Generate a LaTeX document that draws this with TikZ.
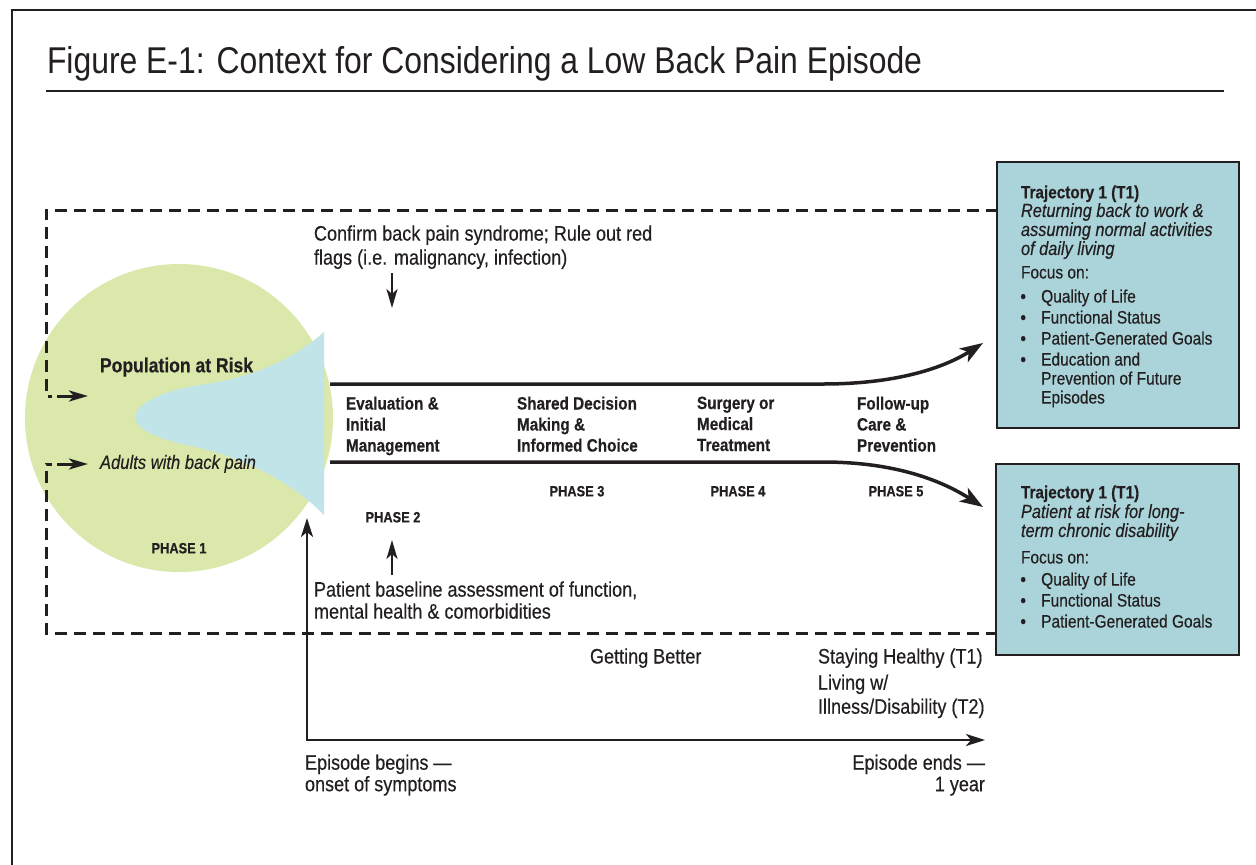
\documentclass[tikz,border=0pt]{standalone}
\usepackage{fontspec}
\setmainfont{Liberation Sans}[FakeStretch=0.86, FakeBold=0.35]
\newfontfamily\titlefont{Liberation Sans}[FakeStretch=0.855]
\usetikzlibrary{arrows.meta}
\definecolor{ink}{HTML}{231F20}
\definecolor{circgreen}{HTML}{DAE9AB}
\definecolor{hornblue}{HTML}{C0E4E7}
\definecolor{boxblue}{HTML}{AAD4D9}
\newcommand{\bul}{\makebox[20.7pt][l]{\bfseries •}}
\begin{document}
\begin{tikzpicture}[x=1pt,y=-1pt,
  every node/.style={inner sep=0pt,outer sep=0pt,text=ink},
  titletext/.style={font=\titlefont\fontsize{37.3}{40}\selectfont,anchor=west,text height=26.7pt,text depth=0pt},
  regtext/.style={font=\fontsize{21}{24}\selectfont,align=left,anchor=north west},
  regline/.style={font=\fontsize{21}{24}\selectfont,anchor=west,text height=15pt,text depth=0pt},
  phaselabel/.style={font=\bfseries\fontsize{17.8}{21}\selectfont,align=left,anchor=north west},
  phasetag/.style={font=\bfseries\fontsize{14.9}{17}\selectfont,text height=10.7pt,text depth=0pt},
  circbold/.style={font=\bfseries\fontsize{20.4}{23}\selectfont,anchor=west,text height=14.6pt,text depth=0pt},
  circital/.style={font=\itshape\fontsize{19.3}{22}\selectfont,anchor=west,text height=13.8pt,text depth=0pt},
  boxtitle/.style={font=\bfseries\fontsize{17.8}{20}\selectfont,anchor=west,text height=12.7pt,text depth=0pt},
  boxital/.style={font=\itshape\fontsize{19}{19}\selectfont,align=left,anchor=north west},
  boxreg/.style={font=\fontsize{18}{21}\selectfont,anchor=west,text height=12.9pt,text depth=0pt},
  boxlist/.style={font=\fontsize{18}{21}\selectfont,align=left,anchor=north west},
  tbox/.style={draw=ink,line width=2pt,fill=boxblue,anchor=north west},
  thinrule/.style={draw=ink,line width=2.5pt},
  dashline/.style={draw=ink,line width=3pt,dash pattern=on 12pt off 7pt},
  flow/.style={draw=ink,line width=3.5pt,-{Stealth[length=23pt,width=16pt,inset=6pt]}},
  smallarrow/.style={draw=ink,line width=2pt,-{Stealth[length=19pt,width=11pt,inset=5pt]}},
  axisline/.style={draw=ink,line width=2.5pt,{Stealth[length=19pt,width=12pt,inset=5pt]}-{Stealth[length=19pt,width=12pt,inset=5pt]}},
]
\useasboundingbox (0,0) rectangle (1256,865);
\fill[white] (0,0) rectangle (1256,865);

% frame and title
\coordinate (frBL) at (12,865);
\coordinate (frTL) at (12,10);
\coordinate (frTR) at (1256,10);
\draw[thinrule] (frBL) -- (frTL) -- (frTR);
\node[titletext] (title) at (47,60.5) {Figure E-1: Context for Considering a Low Back Pain Episode};
\coordinate (ruleL) at (46,91);
\coordinate (ruleR) at (1224,91);
\draw[thinrule] (ruleL) -- (ruleR);

% population circle and horn
\node[circle,fill=circgreen,minimum size=308pt] (pop) at (179,418) {};
\fill[hornblue] (324,332) .. controls (290,362) and (250,378) .. (200,385)
  .. controls (160,391) and (135,405) .. (135,417)
  .. controls (135,430) and (160,440) .. (200,448)
  .. controls (250,460) and (295,485) .. (324,515) -- cycle;

% dashed boundary
\coordinate (dTR) at (998,210);
\coordinate (dBR) at (998,633);
\coordinate (dA1) at (46,396);
\coordinate (dA1e) at (52,396);
\coordinate (dA2) at (46,464);
\coordinate (dA2e) at (52,464);
\coordinate (arA1s) at (57,396);
\coordinate (arA1t) at (88,396);
\coordinate (arA2s) at (57,464);
\coordinate (arA2t) at (88,464);
\draw[dashline] (dTR) -| (dA1) -- (dA1e);
\draw[dashline] (dBR) -| (dA2) -- (dA2e);
\draw[smallarrow,line width=3pt] (arA1s) -- (arA1t);
\draw[smallarrow,line width=3pt] (arA2s) -- (arA2t);

\node[circbold] (popRisk) at (100,365) {Population at Risk};
\node[circital] (adults) at (100,462) {Adults with back pain};
\node[phasetag] (ph1) at (179,548) {PHASE 1};

% flow lines
\coordinate (fT0) at (330,384);
\coordinate (fT1) at (823,384);
\coordinate (fT2) at (983,343);
\coordinate (fB0) at (330,462);
\coordinate (fB1) at (823,462);
\coordinate (fB2) at (983,507);
\draw[flow] (fT0) -- (fT1) .. controls (905,384) and (950,364) .. (fT2);
\draw[flow] (fB0) -- (fB1) .. controls (905,462) and (950,486) .. (fB2);

% phase labels
\node[phaselabel] (eval) at (346,396.6) {Evaluation \&\\Initial\\Management};
\node[phaselabel] (shared) at (517,396.6) {Shared Decision\\Making \&\\Informed Choice};
\node[phaselabel] (surg) at (697,396.6) {Surgery or\\Medical\\Treatment};
\node[phaselabel] (follow) at (857,396.6) {Follow-up\\Care \&\\Prevention};
\node[phasetag] (ph2) at (393,517) {PHASE 2};
\node[phasetag] (ph3) at (577,491) {PHASE 3};
\node[phasetag] (ph4) at (738,491) {PHASE 4};
\node[phasetag] (ph5) at (896,491) {PHASE 5};

% annotations
\node[regtext] (confirm) at (314,225.4) {Confirm back pain syndrome; Rule out red\\flags (i.e. malignancy, infection)};
\coordinate (cfA) at (392,273);
\coordinate (cfB) at (392,308);
\draw[smallarrow] (cfA) -- (cfB);
\node[regtext,font=\fontsize{21}{22}\selectfont] (baseline) at (314,581.4) {Patient baseline assessment of function,\\mental health \& comorbidities};
\coordinate (blA) at (392,575);
\coordinate (blB) at (392,540);
\draw[smallarrow] (blA) -- (blB);

% time axis
\coordinate (axTop) at (307,518);
\coordinate (axEnd) at (985,740);
\draw[axisline] (axTop) |- (axEnd);
\node[regline] (better) at (590,656) {Getting Better};
\node[regline] (healthy) at (818,656) {Staying Healthy (T1)};
\node[regtext] (living) at (818,674.5) {Living w/\\Illness/Disability (T2)};
\node[regtext,font=\fontsize{21}{21.5}\selectfont] (begins) at (305,754.5) {Episode begins —\\onset of symptoms};
\node[regtext,font=\fontsize{21}{21.5}\selectfont,anchor=north east,align=right] (ends) at (985,754.5) {Episode ends —\\1 year};

% trajectory box 1
\node[tbox,minimum width=242pt,minimum height=266pt] (box1) at (997,162) {};
\node[boxtitle] (b1t) at (1021,192) {Trajectory 1 (T1)};
\node[boxital] (b1i) at (1021,203.2) {Returning back to work \&\\assuming normal activities\\of daily living};
\node[boxreg] (b1f) at (1021,272) {Focus on:};
\node[boxlist] (b1l) at (1020.5,289.5) {\bul Quality of Life\\
\bul Functional Status\\
\bul Patient-Generated Goals\\
\bul Education and\\[-2pt]
\hspace*{20.7pt}Prevention of Future\\[-2pt]
\hspace*{20.7pt}Episodes};

% trajectory box 2
\node[tbox,minimum width=243pt,minimum height=191pt] (box2) at (996,464) {};
\node[boxtitle] (b2t) at (1021,492) {Trajectory 1 (T1)};
\node[boxital] (b2i) at (1021,504.2) {Patient at risk for long-\\term chronic disability};
\node[boxreg] (b2f) at (1021,557) {Focus on:};
\node[boxlist] (b2l) at (1020.5,572.5) {\bul Quality of Life\\
\bul Functional Status\\
\bul Patient-Generated Goals};
\end{tikzpicture}
\end{document}
